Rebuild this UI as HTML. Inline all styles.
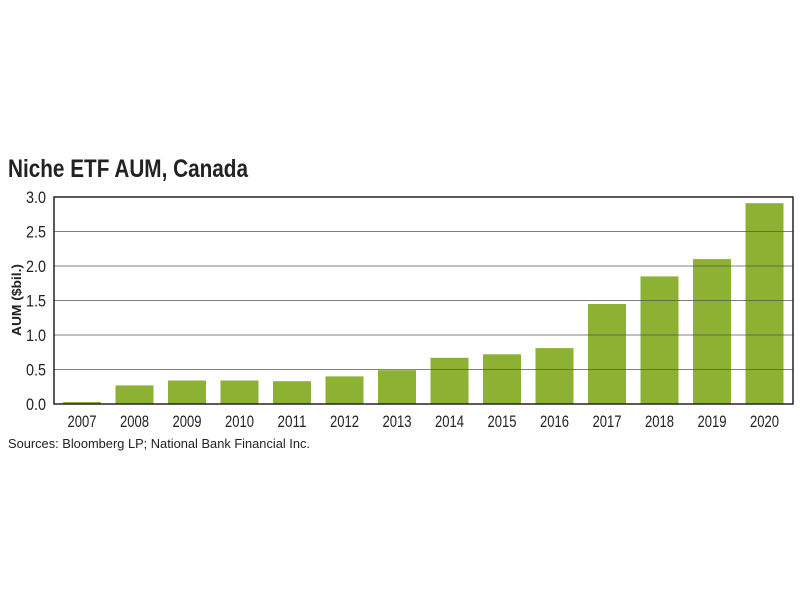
<!DOCTYPE html>
<html><head><meta charset="utf-8"><style>html,body{margin:0;padding:0;background:#fff}svg{display:block}</style></head>
<body>
<svg width="800" height="600" xmlns="http://www.w3.org/2000/svg" font-family="'Liberation Sans Narrow','Liberation Sans',sans-serif">
<rect width="800" height="600" fill="#fff"/>
<text x="8" y="177" font-size="25" font-weight="bold" fill="#222" textLength="240" lengthAdjust="spacingAndGlyphs">Niche ETF AUM, Canada</text>
<g fill="#8db133">
<rect x="63" y="402" width="38" height="2"/>
<rect x="115.5" y="385.4" width="38" height="18.6"/>
<rect x="168" y="380.5" width="38" height="23.5"/>
<rect x="220.5" y="380.5" width="38" height="23.5"/>
<rect x="273" y="381.2" width="38" height="22.8"/>
<rect x="325.5" y="376.4" width="38" height="27.6"/>
<rect x="378" y="370.2" width="38" height="33.8"/>
<rect x="430.5" y="357.8" width="38" height="46.2"/>
<rect x="483" y="354.3" width="38" height="49.7"/>
<rect x="535.5" y="348.1" width="38" height="55.9"/>
<rect x="588" y="304" width="38" height="100"/>
<rect x="640.5" y="276.4" width="38" height="127.6"/>
<rect x="693" y="259.1" width="38" height="144.9"/>
<rect x="745.5" y="203.2" width="38" height="200.8"/>
</g>
<g stroke="#555" stroke-opacity="0.75" stroke-width="1">
<line x1="54" x2="793" y1="231.5" y2="231.5"/>
<line x1="54" x2="793" y1="266" y2="266"/>
<line x1="54" x2="793" y1="300.5" y2="300.5"/>
<line x1="54" x2="793" y1="335" y2="335"/>
<line x1="54" x2="793" y1="369.5" y2="369.5"/>
</g>
<rect x="54" y="197" width="739" height="207" fill="none" stroke="#222" stroke-width="1.5"/>
<g font-size="17" fill="#222">
<text x="26" y="203" textLength="20" lengthAdjust="spacingAndGlyphs">3.0</text>
<text x="26" y="237.5" textLength="20" lengthAdjust="spacingAndGlyphs">2.5</text>
<text x="26" y="272" textLength="20" lengthAdjust="spacingAndGlyphs">2.0</text>
<text x="26" y="306.5" textLength="20" lengthAdjust="spacingAndGlyphs">1.5</text>
<text x="26" y="341" textLength="20" lengthAdjust="spacingAndGlyphs">1.0</text>
<text x="26" y="375.5" textLength="20" lengthAdjust="spacingAndGlyphs">0.5</text>
<text x="26" y="410" textLength="20" lengthAdjust="spacingAndGlyphs">0.0</text>
</g>
<text transform="translate(21,300) rotate(-90)" font-size="13" font-weight="bold" fill="#222" text-anchor="middle" textLength="72" lengthAdjust="spacingAndGlyphs">AUM ($bil.)</text>
<g font-size="17" fill="#222">
<text x="67.5" y="427" textLength="29" lengthAdjust="spacingAndGlyphs">2007</text>
<text x="120" y="427" textLength="29" lengthAdjust="spacingAndGlyphs">2008</text>
<text x="172.5" y="427" textLength="29" lengthAdjust="spacingAndGlyphs">2009</text>
<text x="225" y="427" textLength="29" lengthAdjust="spacingAndGlyphs">2010</text>
<text x="277.5" y="427" textLength="29" lengthAdjust="spacingAndGlyphs">2011</text>
<text x="330" y="427" textLength="29" lengthAdjust="spacingAndGlyphs">2012</text>
<text x="382.5" y="427" textLength="29" lengthAdjust="spacingAndGlyphs">2013</text>
<text x="435" y="427" textLength="29" lengthAdjust="spacingAndGlyphs">2014</text>
<text x="487.5" y="427" textLength="29" lengthAdjust="spacingAndGlyphs">2015</text>
<text x="540" y="427" textLength="29" lengthAdjust="spacingAndGlyphs">2016</text>
<text x="592.5" y="427" textLength="29" lengthAdjust="spacingAndGlyphs">2017</text>
<text x="645" y="427" textLength="29" lengthAdjust="spacingAndGlyphs">2018</text>
<text x="697.5" y="427" textLength="29" lengthAdjust="spacingAndGlyphs">2019</text>
<text x="750" y="427" textLength="29" lengthAdjust="spacingAndGlyphs">2020</text>
</g>
<text x="8" y="448" font-size="12.5" fill="#222" font-family="'Liberation Sans',sans-serif" textLength="302" lengthAdjust="spacingAndGlyphs">Sources: Bloomberg LP; National Bank Financial Inc.</text>
</svg>
</body></html>
